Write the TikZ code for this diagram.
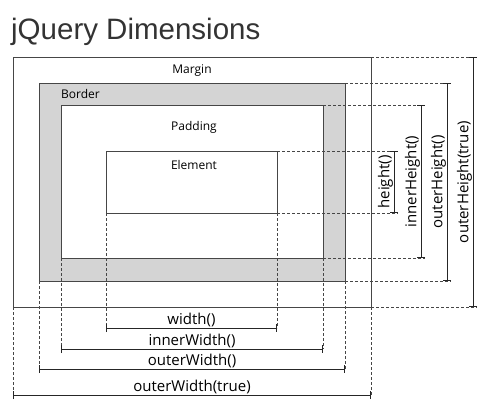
\documentclass[tikz,border=0pt]{standalone}
\usepackage{fontspec}
\usepackage{tikz}
\usetikzlibrary{arrows.meta, positioning, calc}
\newfontfamily\titlefont{Liberation Sans}
\newfontfamily\labelfont{Open Sans}
\definecolor{BoxLine}{RGB}{70, 70, 70}
\definecolor{BorderGray}{RGB}{212, 212, 212}
\definecolor{TitleGray}{RGB}{51, 51, 51}
\tikzset{
    box/.style={rectangle, draw=BoxLine, line width=1pt, inner sep=0pt, outer sep=0pt},
    guide/.style={draw=BoxLine, line width=0.8pt, dash pattern=on 3pt off 2pt},
    dim/.style={{Bar[width=8pt]}-{Bar[width=8pt]}, line width=1pt, draw=black!85},
    boxLabel/.style={inner sep=0pt, anchor=base, font=\labelfont\fontsize{12}{14}\selectfont},
    dimLabel/.style={inner sep=0.5pt, font=\labelfont\fontsize{15}{17}\selectfont}
}

\begin{document}
\begin{tikzpicture}[
        x=1pt, y=-1pt,
        % title
        titleStyle/.style={anchor=base west, inner sep=0pt, text=TitleGray,
            font=\titlefont\fontsize{29.5}{33}\selectfont}
    ]
    \useasboundingbox (0, 0) rectangle (489, 404);

    % --- TITLE ---
    \node[titleStyle] (title) at (11, 40) {jQuery Dimensions};

    % --- NESTED BOXES ---
    \node[box, fill=white, minimum width=358pt, minimum height=250pt] (margin) at (192, 182) {};
    \node[box, fill=BorderGray, minimum width=306pt, minimum height=198pt] (border) at (192, 182) {};
    \node[box, fill=white, minimum width=262pt, minimum height=153pt] (padding) at (192, 181.5) {};
    \node[box, fill=white, minimum width=171pt, minimum height=62pt] (element) at (191.5, 182) {};

    \node[boxLabel] (marginText)  at (192, 74)  {Margin};
    \node[boxLabel, anchor=base west] (borderText) at (61, 98) {Border};
    \node[boxLabel] (paddingText) at (194, 130) {Padding};
    \node[boxLabel] (elementText) at (194, 169) {Element};

    % --- HEIGHT DIMENSIONS (right) ---
    \coordinate (hgt) at (394, 0);
    \coordinate (ihgt) at (421, 0);
    \coordinate (ohgt) at (447, 0);
    \coordinate (othgt) at (473, 0);

    \draw[guide] (element.north east) -- ($(element.north east -| hgt)+(4, 0)$);
    \draw[guide] (element.south east) -- ($(element.south east -| hgt)+(4, 0)$);
    \draw[dim] (element.north east -| hgt) -- node[dimLabel, rotate=90, anchor=south] {height()} (element.south east -| hgt);

    \draw[guide] (padding.north east) -- ($(padding.north east -| ihgt)+(4, 0)$);
    \draw[guide] (padding.south east) -- ($(padding.south east -| ihgt)+(4, 0)$);
    \draw[dim] (padding.north east -| ihgt) -- node[dimLabel, rotate=90, anchor=south] {innerHeight()} (padding.south east -| ihgt);

    \draw[guide] (border.north east) -- ($(border.north east -| ohgt)+(4, 0)$);
    \draw[guide] (border.south east) -- ($(border.south east -| ohgt)+(4, 0)$);
    \draw[dim] (border.north east -| ohgt) -- node[dimLabel, rotate=90, anchor=south] {outerHeight()} (border.south east -| ohgt);

    \draw[guide] (margin.north east) -- ($(margin.north east -| othgt)+(4, 0)$);
    \draw[guide] (margin.south east) -- ($(margin.south east -| othgt)+(4, 0)$);
    \draw[dim] (margin.north east -| othgt) -- node[dimLabel, rotate=90, anchor=south] {outerHeight(true)} (margin.south east -| othgt);

    % --- WIDTH DIMENSIONS (bottom) ---
    \coordinate (wdt) at (0, 328);
    \coordinate (iwdt) at (0, 349);
    \coordinate (owdt) at (0, 369);
    \coordinate (otwdt) at (0, 395);

    \draw[guide] (element.south west) -- (element.south west |- wdt);
    \draw[guide] (element.south east) -- (element.south east |- wdt);
    \draw[dim] (element.south west |- wdt) -- node[dimLabel, above] {width()} (element.south east |- wdt);

    \draw[guide] (padding.south west) -- (padding.south west |- iwdt);
    \draw[guide] (padding.south east) -- (padding.south east |- iwdt);
    \draw[dim] (padding.south west |- iwdt) -- node[dimLabel, above] {innerWidth()} (padding.south east |- iwdt);

    \draw[guide] (border.south west) -- (border.south west |- owdt);
    \draw[guide] (border.south east) -- (border.south east |- owdt);
    \draw[dim] (border.south west |- owdt) -- node[dimLabel, above] {outerWidth()} (border.south east |- owdt);

    \draw[guide] (margin.south west) -- (margin.south west |- otwdt);
    \draw[guide] (margin.south east) -- (margin.south east |- otwdt);
    \draw[dim] (margin.south west |- otwdt) -- node[dimLabel, above] {outerWidth(true)} (margin.south east |- otwdt);

\end{tikzpicture}
\end{document}
